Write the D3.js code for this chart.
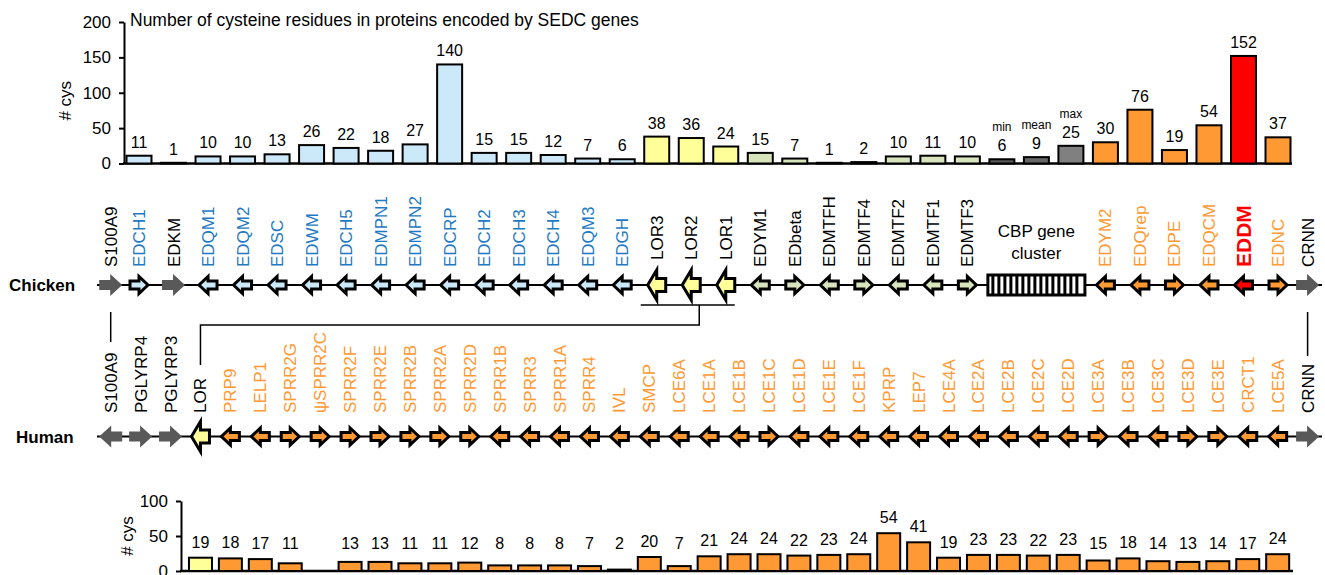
<!DOCTYPE html>
<html><head><meta charset="utf-8">
<script src="https://cdn.jsdelivr.net/npm/d3@7"></script>
<style>body{margin:0;background:#fff} svg{display:block} text{font-family:"Liberation Sans",Arial,Helvetica,sans-serif}</style>
</head><body><svg id="c" width="1325" height="575"></svg>
<script>
// ---------- DATA ----------
const chartTitle = "Number of cysteine residues in proteins encoded by SEDC genes";
const topCategories = ["EDCH1","EDKM","EDQM1","EDQM2","EDSC","EDWM","EDCH5","EDMPN1","EDMPN2","EDCRP","EDCH2","EDCH3","EDCH4","EDQM3","EDGH","LOR3","LOR2","LOR1","EDYM1","EDbeta","EDMTFH","EDMTF4","EDMTF2","EDMTF1","EDMTF3","min","mean","max","EDYM2","EDQrep","EDPE","EDQCM","EDDM","EDNC"];
const topValues = [11,1,10,10,13,26,22,18,27,140,15,15,12,7,6,38,36,24,15,7,1,2,10,11,10,6,9,25,30,76,19,54,152,37];
const topGroups = ["blue","gray","blue","blue","blue","blue","blue","blue","blue","blue","blue","blue","blue","blue","blue","yellow","yellow","yellow","green","green","green","green","green","green","green","statMin","statMean","statMax","orange","orange","orange","orange","red","orange"];
const statNames = ["min","mean","max"];
const topTicks = [0,50,100,150,200];

const chickenGenes = ["S100A9","EDCH1","EDKM","EDQM1","EDQM2","EDSC","EDWM","EDCH5","EDMPN1","EDMPN2","EDCRP","EDCH2","EDCH3","EDCH4","EDQM3","EDGH","LOR3","LOR2","LOR1","EDYM1","EDbeta","EDMTFH","EDMTF4","EDMTF2","EDMTF1","EDMTF3","EDYM2","EDQrep","EDPE","EDQCM","EDDM","EDNC","CRNN"];
const chickenDirs = ["R","R","R","L","L","L","L","L","L","L","L","L","L","L","L","L","L","L","L","L","R","L","R","L","L","R","L","L","R","L","L","R","R"];
const chickenGroups = ["gray","blue","gray","blue","blue","blue","blue","blue","blue","blue","blue","blue","blue","blue","blue","blue","yellow","yellow","yellow","green","green","green","green","green","green","green","orange","orange","orange","orange","red","orange","gray"];
const cbpLabel = ["CBP gene","cluster"];

const humanGenes = ["S100A9","PGLYRP4","PGLYRP3","LOR","PRP9","LELP1","SPRR2G","\u03C8SPRR2C","SPRR2F","SPRR2E","SPRR2B","SPRR2A","SPRR2D","SPRR1B","SPRR3","SPRR1A","SPRR4","IVL","SMCP","LCE6A","LCE1A","LCE1B","LCE1C","LCE1D","LCE1E","LCE1F","KPRP","LEP7","LCE4A","LCE2A","LCE2B","LCE2C","LCE2D","LCE3A","LCE3B","LCE3C","LCE3D","LCE3E","CRCT1","LCE5A","CRNN"];
const humanDirs = ["L","R","R","L","L","L","R","R","R","R","R","R","R","L","L","L","L","L","L","L","L","L","R","L","L","L","L","L","L","L","L","L","L","R","L","L","R","R","L","L","R"];
const humanGroups = ["gray","gray","gray","yellow","orange","orange","orange","orange","orange","orange","orange","orange","orange","orange","orange","orange","orange","orange","orange","orange","orange","orange","orange","orange","orange","orange","orange","orange","orange","orange","orange","orange","orange","orange","orange","orange","orange","orange","orange","orange","gray"];

const bottomCategories = ["LOR","PRP9","LELP1","SPRR2G","\u03C8SPRR2C","SPRR2F","SPRR2E","SPRR2B","SPRR2A","SPRR2D","SPRR1B","SPRR3","SPRR1A","SPRR4","IVL","SMCP","LCE6A","LCE1A","LCE1B","LCE1C","LCE1D","LCE1E","LCE1F","KPRP","LEP7","LCE4A","LCE2A","LCE2B","LCE2C","LCE2D","LCE3A","LCE3B","LCE3C","LCE3D","LCE3E","CRCT1","LCE5A"];
const bottomValues = [19,18,17,11,null,13,13,11,11,12,8,8,8,7,2,20,7,21,24,24,22,23,24,54,41,19,23,23,22,23,15,18,14,13,14,17,24];
const bottomGroups = ["yellow"].concat(d3.range(36).map(()=>"orange"));
const bottomTicks = [0,50,100];

// ---------- STYLE ----------
const fills = {blue:"#cce9f9", yellow:"#ffff99", green:"#d8e4bc", orange:"#ff9933", red:"#ff0000", gray:"#595959", statMin:"#595959", statMean:"#666666", statMax:"#808080"};
const labelCol = {blue:"#1f7ac3", orange:"#ff9933", red:"#ff0000", gray:"#000", yellow:"#000", green:"#000"};

const svg = d3.select("#c");
const FF = "'Liberation Sans',Arial,sans-serif";

// ---------- SCALES ----------
const xHuman = d3.scalePoint().domain(humanGenes).range([110.7, 1307.6]);
const xChick = d3.scalePoint().domain(topCategories).range([139, 1278]);
const chickX = g => (g==="S100A9"||g==="CRNN") ? xHuman(g) : xChick(g);

const yTop = d3.scaleLinear().domain([0,200]).range([163.5, 22]);
const yBot = d3.scaleLinear().domain([0,100]).range([571, 501]);

const rowChick = 285, rowHuman = 436.5;

// ---------- TOP CHART ----------
const topAxisX = 124;
const gTopAxis = svg.append("g").attr("transform",`translate(${topAxisX},0)`)
  .call(d3.axisLeft(yTop).tickValues(topTicks).tickSize(5).tickSizeOuter(0).tickPadding(8));
gTopAxis.selectAll("path,line").attr("stroke","#000").attr("stroke-width",2);
gTopAxis.selectAll("text").attr("font-size",17).attr("font-family",FF).attr("fill","#000");
svg.append("line").attr("x1",topAxisX-1).attr("x2",1292).attr("y1",yTop(0)).attr("y2",yTop(0)).attr("stroke","#000").attr("stroke-width",2.5);
svg.append("text").attr("transform",`translate(71,${(yTop(0)+yTop(200))/2+8}) rotate(-90)`).attr("text-anchor","middle").attr("font-size",17).text("# cys");
svg.append("text").attr("x",130).attr("y",26).attr("font-size",17.5).text(chartTitle);

const bwTop = 25;
const topData = topCategories.map((c,i)=>({c, v:topValues[i], g:topGroups[i]}));
svg.append("g").selectAll("rect").data(topData).join("rect")
  .attr("x",d=>xChick(d.c)-bwTop/2).attr("width",bwTop)
  .attr("y",d=>yTop(d.v)).attr("height",d=>yTop(0)-yTop(d.v))
  .attr("fill",d=>fills[d.g]).attr("stroke","#000").attr("stroke-width",2);
svg.append("g").selectAll("text").data(topData).join("text")
  .attr("x",d=>xChick(d.c)).attr("y",d=>yTop(d.v)-8)
  .attr("text-anchor","middle").attr("font-size",16).text(d=>d.v);
svg.append("g").selectAll("text").data(topData.filter(d=>statNames.includes(d.c))).join("text")
  .attr("x",d=>xChick(d.c)).attr("y",d=>yTop(d.v)-28)
  .attr("text-anchor","middle").attr("font-size",12).text(d=>d.c);

// ---------- ARROWS ----------
const sizes = {
  small:{w:18,hh:17,bh:8,hl:9},
  big:{w:18,hh:30,bh:13,hl:9},
  gray:{w:23,hh:22,bh:10,hl:12}
};
function arrowPath(cx, cy, dir, s){
  const d = dir==="R"?1:-1;
  const x0=-s.w/2, x1=s.w/2, xb=x1-s.hl;
  const pts=[[x0,-s.bh/2],[xb,-s.bh/2],[xb,-s.hh/2],[x1,0],[xb,s.hh/2],[xb,s.bh/2],[x0,s.bh/2]];
  return d3.line()(pts.map(p=>[cx+d*p[0], cy+p[1]]))+"Z";
}
function drawArrows(list, xf, cy){
  const g = svg.append("g");
  g.selectAll("path").data(list).join("path")
    .attr("d",d=>arrowPath(xf(d.name), cy, d.dir, d.group==="gray"?sizes.gray:(d.group==="yellow"?sizes.big:sizes.small)))
    .attr("fill",d=>fills[d.group])
    .attr("stroke",d=>d.group==="gray"?"none":"#000")
    .attr("stroke-width",3).attr("stroke-linejoin","miter");
}

// ---------- CHICKEN ROW ----------
svg.append("text").attr("x",9).attr("y",rowChick+6).attr("font-size",17).attr("font-weight","bold").text("Chicken");
svg.append("line").attr("x1",97).attr("x2",1322).attr("y1",rowChick).attr("y2",rowChick).attr("stroke","#000").attr("stroke-width",2);
const chickList = chickenGenes.map((n,i)=>({name:n, dir:chickenDirs[i], group:chickenGroups[i]}));
// CBP cluster box
const cbpX0 = xChick("min")-14, cbpX1 = xChick("max")+14;
svg.append("rect").attr("x",cbpX0).attr("y",rowChick-10).attr("width",cbpX1-cbpX0).attr("height",20).attr("fill","#fff").attr("stroke","#000").attr("stroke-width",3);
svg.append("g").selectAll("line").data(d3.range(cbpX0+5, cbpX1-3, 6)).join("line")
  .attr("x1",d=>d).attr("x2",d=>d).attr("y1",rowChick-10).attr("y2",rowChick+10).attr("stroke","#000").attr("stroke-width",3);
svg.append("text").attr("x",(cbpX0+cbpX1)/2).attr("text-anchor","middle").attr("font-size",17)
  .selectAll("tspan").data(cbpLabel).join("tspan").attr("x",(cbpX0+cbpX1)/2).attr("y",(d,i)=>237+i*22).text(d=>d);
drawArrows(chickList, chickX, rowChick);
svg.append("g").selectAll("text").data(chickList).join("text")
  .attr("transform",d=>`translate(${chickX(d.name)+(d.group==="red"?7.5:6)},${d.group==="yellow"?260:267}) rotate(-90)`)
  .attr("font-size",d=>d.group==="red"?21:17).attr("font-weight",d=>d.group==="red"?"bold":"normal")
  .attr("fill",d=>labelCol[d.group]).text(d=>d.name);

// ---------- CONNECTORS ----------
const conn = svg.append("g").attr("stroke","#000").attr("stroke-width",1.5).attr("fill","none");
conn.append("line").attr("x1",xChick("LOR3")-16).attr("x2",xChick("LOR1")+9).attr("y1",305).attr("y2",305);
const dropX = xChick("LOR2")+8;
conn.append("path").attr("d",`M${dropX},305V325H${xHuman("LOR")}V365`);
conn.append("line").attr("x1",xHuman("S100A9")).attr("x2",xHuman("S100A9")).attr("y1",312).attr("y2",342);
conn.append("line").attr("x1",xHuman("CRNN")).attr("x2",xHuman("CRNN")).attr("y1",312).attr("y2",356);

// ---------- HUMAN ROW ----------
svg.append("text").attr("x",16).attr("y",rowHuman+6).attr("font-size",17).attr("font-weight","bold").text("Human");
svg.append("line").attr("x1",97).attr("x2",1322).attr("y1",rowHuman).attr("y2",rowHuman).attr("stroke","#000").attr("stroke-width",2);
const humanList = humanGenes.map((n,i)=>({name:n, dir:humanDirs[i], group:humanGroups[i]}));
drawArrows(humanList, xHuman, rowHuman);
svg.append("g").selectAll("text").data(humanList).join("text")
  .attr("transform",d=>`translate(${xHuman(d.name)+6},413) rotate(-90)`)
  .attr("font-size",17).attr("fill",d=>labelCol[d.group]).text(d=>d.name);

// ---------- BOTTOM CHART ----------
const botAxisX = 181;
const gBotAxis = svg.append("g").attr("transform",`translate(${botAxisX},0)`)
  .call(d3.axisLeft(yBot).tickValues(bottomTicks).tickSize(5).tickSizeOuter(0).tickPadding(8));
gBotAxis.selectAll("path,line").attr("stroke","#000").attr("stroke-width",2);
gBotAxis.selectAll("text").attr("font-size",17).attr("font-family",FF).attr("fill","#000");
svg.append("line").attr("x1",botAxisX-1).attr("x2",1293).attr("y1",yBot(0)).attr("y2",yBot(0)).attr("stroke","#000").attr("stroke-width",2.5);
svg.append("text").attr("transform",`translate(133,${(yBot(0)+yBot(100))/2}) rotate(-90)`).attr("text-anchor","middle").attr("font-size",17).text("# cys");
const bwBot = 23;
const botData = bottomCategories.map((c,i)=>({c, v:bottomValues[i], g:bottomGroups[i]})).filter(d=>d.v!==null);
svg.append("g").selectAll("rect").data(botData).join("rect")
  .attr("x",d=>xHuman(d.c)-bwBot/2).attr("width",bwBot)
  .attr("y",d=>yBot(d.v)).attr("height",d=>yBot(0)-yBot(d.v))
  .attr("fill",d=>fills[d.g]).attr("stroke","#000").attr("stroke-width",2);
svg.append("g").selectAll("text").data(botData).join("text")
  .attr("x",d=>xHuman(d.c)).attr("y",d=>Math.min(yBot(d.v)-10, 549))
  .attr("text-anchor","middle").attr("font-size",16).text(d=>d.v);
</script></body></html>
